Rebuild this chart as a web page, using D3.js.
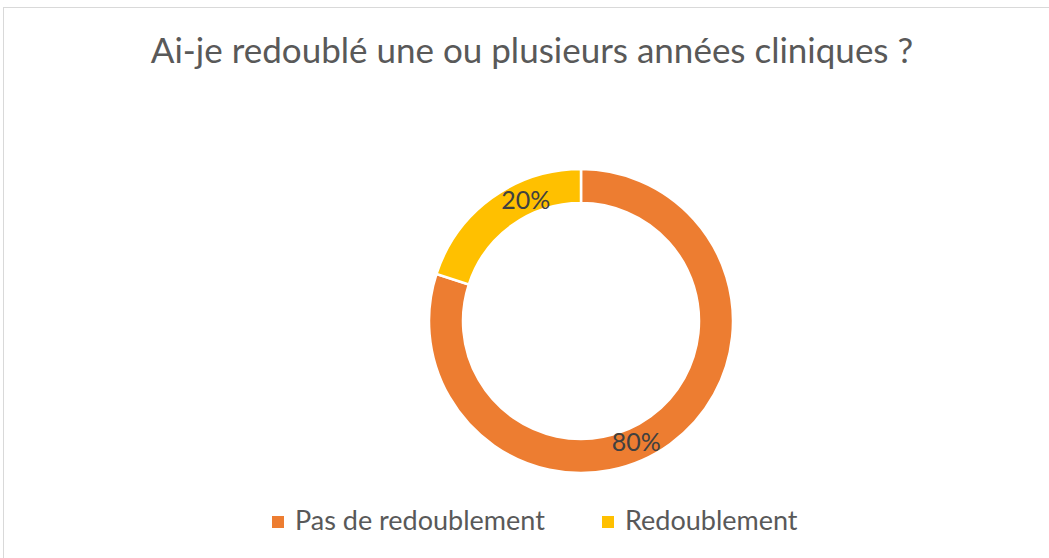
<!DOCTYPE html>
<html><head><meta charset="utf-8">
<script src="https://cdn.jsdelivr.net/npm/d3@7"></script>
<style>body{margin:0;background:#fff;}svg{display:block;}</style>
</head><body>
<svg id="c" width="1049" height="558"></svg>
<script>
const title = "Ai-je redoublé une ou plusieurs années cliniques ?";
const categories = ["Pas de redoublement", "Redoublement"];
const values = [80, 20];
const colors = ["#ED7D31", "#FFC000"];

const svg = d3.select("#c");
const W = 1049, H = 558;
const font = "Lato, 'Open Sans', sans-serif";

svg.append("rect").attr("x", 3.5).attr("y", 7.5).attr("width", W + 10).attr("height", H + 10)
  .attr("fill", "#fff").attr("stroke", "#D9D9D9").attr("stroke-width", 1);

svg.append("text").attr("x", 532).attr("y", 63).attr("text-anchor", "middle")
  .attr("font-family", font).attr("font-size", 35).attr("fill", "#595959").text(title);

const cx = 581, cy = 321, rOuter = 152, rInner = 118;
const total = d3.sum(values);
// Excel draws clockwise from 12 o'clock in series order
const pie = d3.pie().sort(null).value(d => d);
const arcs = pie(values);
const arc = d3.arc().innerRadius(rInner).outerRadius(rOuter);
const g = svg.append("g").attr("transform", `translate(${cx},${cy})`);
g.selectAll("path").data(arcs).join("path")
  .attr("d", arc).attr("fill", (d, i) => colors[i])
  .attr("stroke", "#fff").attr("stroke-width", 2.5);

const fmt = d3.format(".0%");
const labelR = 133, shift = 0.2;
g.selectAll("text.lbl").data(arcs).join("text").attr("class", "lbl")
  .attr("x", d => labelR * Math.sin((d.startAngle + d.endAngle) / 2 + shift))
  .attr("y", d => -labelR * Math.cos((d.startAngle + d.endAngle) / 2 + shift))
  .attr("dy", "0.35em").attr("text-anchor", "middle")
  .attr("font-family", font).attr("font-size", 25).attr("fill", "#404040")
  .text(d => fmt(d.value / total));

const legendX = [272, 602];
const lg = svg.append("g");
categories.forEach((c, i) => {
  lg.append("rect").attr("x", legendX[i]).attr("y", 516).attr("width", 12).attr("height", 12).attr("fill", colors[i]);
  lg.append("text").attr("x", legendX[i] + 23).attr("y", 530).attr("font-family", font)
    .attr("font-size", 27).attr("fill", "#595959").text(c);
});
</script>
</body></html>
